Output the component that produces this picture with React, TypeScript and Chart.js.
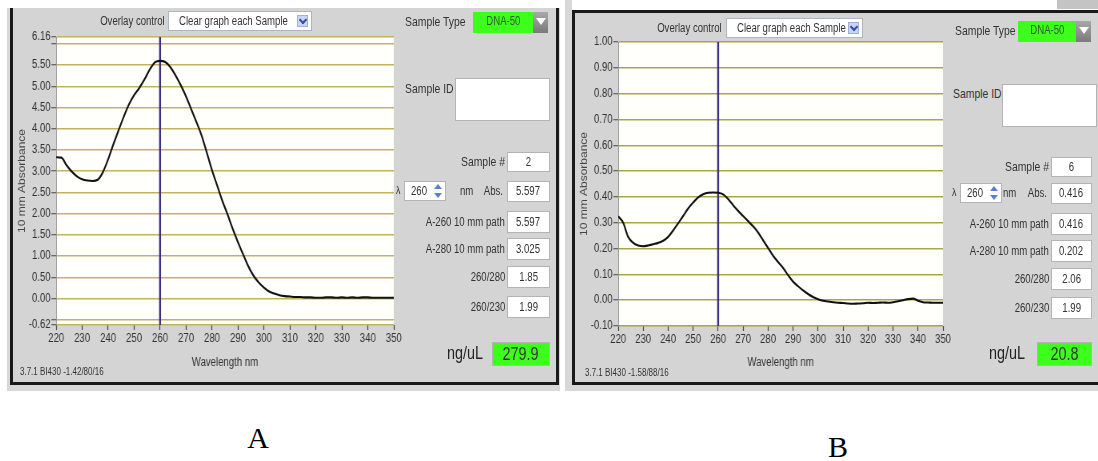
import React, { useEffect, useRef } from "react";
import { Chart, registerables } from "chart.js";

Chart.register(...registerables);

// Wavelength grid (nm) shared by both spectra
const wavelengths = [
  220, 222, 224, 226, 228, 230, 232, 234, 236, 238, 240, 242, 244, 246, 248, 250, 252, 254, 256, 258,
  260, 262, 264, 266, 268, 270, 272, 274, 276, 278, 280, 282, 284, 286, 288, 290, 292, 294, 296, 298,
  300, 302, 304, 306, 308, 310, 312, 314, 316, 318, 320, 322, 324, 326, 328, 330, 332, 334, 336, 338,
  340, 342, 344, 346, 348, 350,
];

// Sample 2 absorbance (10 mm path)
const absorbanceA = [
  3.33, 3.32, 3.14, 2.99, 2.88, 2.81, 2.78, 2.77, 2.8, 2.98, 3.28, 3.63, 3.96, 4.28, 4.57, 4.79, 4.96, 5.16, 5.39, 5.56,
  5.597, 5.57, 5.45, 5.25, 5.02, 4.76, 4.46, 4.16, 3.84, 3.44, 3.025, 2.66, 2.3, 1.98, 1.64, 1.33, 1.04, 0.76, 0.54, 0.38,
  0.26, 0.17, 0.12, 0.08, 0.06, 0.05, 0.04, 0.04, 0.03, 0.03, 0.02, 0.02, 0.03, 0.03, 0.02, 0.03, 0.02, 0.03, 0.02, 0.03,
  0.03, 0.02, 0.02, 0.02, 0.02, 0.02,
];

// Sample 6 absorbance (10 mm path)
const absorbanceB = [
  0.325, 0.3, 0.245, 0.222, 0.212, 0.209, 0.212, 0.217, 0.222, 0.23, 0.245, 0.27, 0.298, 0.326, 0.355, 0.378, 0.398, 0.41, 0.416, 0.417,
  0.416, 0.41, 0.392, 0.368, 0.346, 0.326, 0.306, 0.286, 0.262, 0.232, 0.202, 0.172, 0.148, 0.125, 0.097, 0.072, 0.054, 0.038, 0.024, 0.012,
  0.004, -0.002, -0.005, -0.008, -0.01, -0.011, -0.013, -0.014, -0.013, -0.012, -0.01, -0.011, -0.01, -0.009, -0.01, -0.008, -0.004, 0.0, 0.004, 0.006,
  -0.002, -0.008, -0.009, -0.01, -0.01, -0.01,
];

const xTicks = [220, 230, 240, 250, 260, 270, 280, 290, 300, 310, 320, 330, 340, 350];
const yTicksA = [-0.62, -0.5, 0, 0.5, 1, 1.5, 2, 2.5, 3, 3.5, 4, 4.5, 5, 5.5, 6, 6.16];
const yUnlabeledA = [-0.5, 6];
const yTicksB = [-0.1, 0, 0.1, 0.2, 0.3, 0.4, 0.5, 0.6, 0.7, 0.8, 0.9, 1.0];
const markerNm = 260;

// Readout panel contents
const readoutLabels = ["A-260 10 mm path", "A-280 10 mm path", "260/280", "260/230"];
const readoutsA = ["5.597", "3.025", "1.85", "1.99"];
const readoutsB = ["0.416", "0.202", "2.06", "1.99"];
const sampleNumbers = ["2", "6"];
const absAtMarker = ["5.597", "0.416"];
const concentrations = ["279.9", "20.8"];
const footers = ["3.7.1 BI430 -1.42/80/16", "3.7.1 BI430 -1.58/88/16"];
const captions = ["A", "B"];

const SANS = '"Liberation Sans", Arial, sans-serif';
const SQUEEZE = 0.8; // instrument UI uses a horizontally condensed face
const PANEL = "#d4d4d4";
const GREEN = "#3cff1c";

const plotBackground = {
  id: "plotBackground",
  beforeDraw(chart: any) {
    const { ctx, chartArea } = chart;
    ctx.save();
    ctx.fillStyle = "#fffffb";
    ctx.fillRect(chartArea.left, chartArea.top, chartArea.right - chartArea.left, chartArea.bottom - chartArea.top);
    ctx.restore();
  },
};

type SpectrumProps = {
  left: number; top: number; width: number; height: number;
  values: number[]; yMin: number; yMax: number; yTicks: number[]; unlabeled: number[];
  gridColor: string; yAxisWidth: number; xAxisHeight: number; padTop: number; padRight: number;
};

function Spectrum(p: SpectrumProps) {
  const ref = useRef<HTMLCanvasElement>(null);
  useEffect(() => {
    const points = wavelengths.map((w, i) => ({ x: w, y: p.values[i] }));
    const tickFont = { family: SANS, size: 12 };
    const chart = new Chart(ref.current as HTMLCanvasElement, {
      type: "line",
      data: {
        datasets: [
          {
            data: points,
            borderColor: "#111111",
            borderWidth: 2.1,
            pointRadius: 0,
            cubicInterpolationMode: "monotone",
            order: 1,
          },
          {
            data: [
              { x: markerNm, y: p.yMin },
              { x: markerNm, y: p.yMax },
            ],
            borderColor: "#3d2f86",
            borderWidth: 2.4,
            pointRadius: 0,
            order: 2,
          },
        ],
      },
      options: {
        animation: false,
        responsive: false,
        maintainAspectRatio: false,
        layout: { padding: { top: p.padTop, right: p.padRight, left: 0, bottom: 0 } },
        plugins: { legend: { display: false }, tooltip: { enabled: false } },
        scales: {
          x: {
            type: "linear",
            min: 220,
            max: 350,
            afterBuildTicks: (s: any) => {
              s.ticks = xTicks.map((v) => ({ value: v }));
            },
            afterFit: (s: any) => {
              s.height = p.xAxisHeight;
            },
            grid: { drawOnChartArea: false, tickLength: 5, tickColor: "#444", tickWidth: 1.2 },
            border: { display: false },
            ticks: { font: tickFont, color: "#333", padding: 1, maxRotation: 0, autoSkip: false },
            title: {
              display: true,
              text: "Wavelength nm",
              font: { family: SANS, size: 12 },
              color: "#333",
              padding: { top: 2, bottom: 4 },
            },
          },
          y: {
            type: "linear",
            min: p.yMin,
            max: p.yMax,
            afterBuildTicks: (s: any) => {
              s.ticks = p.yTicks.map((v) => ({ value: v }));
            },
            afterFit: (s: any) => {
              s.width = p.yAxisWidth;
            },
            grid: { color: p.gridColor, lineWidth: 1.5, tickLength: 6, tickColor: "#444", tickWidth: 1 },
            border: { display: true, color: "#9a9a9a", width: 1 },
            ticks: {
              font: tickFont,
              color: "#333",
              padding: 1,
              autoSkip: false,
              callback: (v: any) => (p.unlabeled.includes(Number(v)) ? "" : Number(v).toFixed(2)),
            },
            title: {
              display: true,
              text: "10 mm Absorbance",
              font: { family: SANS, size: 12 },
              color: "#444",
              padding: { top: 4, bottom: 2 },
            },
          },
        },
      },
      plugins: [plotBackground],
    } as any);
    return () => chart.destroy();
  }, []);
  return (
    <canvas
      ref={ref}
      width={p.width}
      height={p.height}
      style={{
        position: "absolute",
        left: p.left,
        top: p.top,
        width: p.width,
        height: p.height,
        transform: `scaleX(${SQUEEZE})`,
        transformOrigin: "0 0",
      }}
    />
  );
}

function Label(props: { x: number; y: number; text: string; size?: number; align?: "left" | "right" | "center"; color?: string }) {
  const size = props.size ?? 12;
  const align = props.align ?? "left";
  const w = 240;
  const left = align === "left" ? props.x : align === "right" ? props.x - w : props.x - w / 2;
  return (
    <div
      style={{
        position: "absolute",
        left,
        top: props.y - size * 0.6,
        width: w,
        height: size * 1.2,
        lineHeight: `${size * 1.2}px`,
        fontSize: size,
        fontFamily: SANS,
        color: props.color ?? "#333",
        textAlign: align,
        whiteSpace: "nowrap",
      }}
    >
      <span style={{ display: "inline-block", transform: `scaleX(${SQUEEZE})`, transformOrigin: align }}>{props.text}</span>
    </div>
  );
}

function ValueBox(props: { x: number; y: number; w: number; h: number; text: string; bg?: string; size?: number }) {
  return (
    <div
      style={{
        position: "absolute",
        left: props.x,
        top: props.y - props.h / 2,
        width: props.w,
        height: props.h,
        boxSizing: "border-box",
        background: props.bg ?? "#ffffff",
        border: "1px solid #b4b4b4",
        textAlign: "center",
        lineHeight: `${props.h - 2}px`,
        fontSize: props.size ?? 12,
        fontFamily: SANS,
        color: "#333",
        whiteSpace: "nowrap",
      }}
    >
      <span style={{ display: "inline-block", transform: `scaleX(${SQUEEZE})`, transformOrigin: "center" }}>{props.text}</span>
    </div>
  );
}

function Rect(props: { x: number; y: number; w: number; h: number; bg: string; extra?: any }) {
  return (
    <div
      style={{ position: "absolute", left: props.x, top: props.y, width: props.w, height: props.h, background: props.bg, ...(props.extra || {}) }}
    />
  );
}

type ControlsProps = {
  idx: number;
  overlayRight: number; overlayY: number; dropX: number; dropW: number;
  typeTextX: number; typeY: number; greenX: number; greenW: number;
  idTextX: number; idY: number; idBoxX: number; idBoxTop: number;
  right: number; boxW: number; rowYs: number[];
  lambdaX: number; spinX: number; nmX: number;
  ngRight: number; ngY: number; ngX: number; ngW: number;
  footerX: number; footerY: number;
  readouts: string[];
};

function Controls(c: ControlsProps) {
  const boxX = c.right - c.boxW;
  const labelRight = boxX - 2;
  return (
    <>
      <Label x={c.overlayRight} y={c.overlayY} text="Overlay control" size={12} align="right" />
      <div
        style={{
          position: "absolute",
          left: c.dropX,
          top: c.overlayY - 10,
          width: c.dropW,
          height: 20,
          boxSizing: "border-box",
          background: "#fff",
          border: "1px solid #a9b6c8",
        }}
      />
      <Label x={c.dropX + 11} y={c.overlayY} text="Clear graph each Sample" size={12} />
      <Rect x={c.dropX + c.dropW - 15} y={c.overlayY - 6} w={11} h={12} bg="#c9d5f2" extra={{ border: "1px solid #a0b0d8", boxSizing: "border-box" }} />
      <div
        style={{
          position: "absolute",
          left: c.dropX + c.dropW - 12,
          top: c.overlayY - 4,
          width: 4,
          height: 4,
          borderRight: "2px solid #3050a8",
          borderBottom: "2px solid #3050a8",
          transform: "rotate(45deg)",
        }}
      />

      <Label x={c.typeTextX} y={c.typeY} text="Sample Type" size={13} />
      <Rect x={c.greenX} y={c.typeY - 10} w={c.greenW} h={21} bg={GREEN} />
      <Label x={c.greenX + c.greenW / 2} y={c.typeY - 1} text="DNA-50" size={12} align="center" color="#2f5a2f" />
      <Rect x={c.greenX + c.greenW} y={c.typeY - 10} w={15} h={21} bg="linear-gradient(#a8a8a8, #7a7a7a)" />
      <div
        style={{
          position: "absolute",
          left: c.greenX + c.greenW + 3,
          top: c.typeY - 4,
          width: 0,
          height: 0,
          borderLeft: "5px solid transparent",
          borderRight: "5px solid transparent",
          borderTop: "7px solid #ffffff",
        }}
      />

      <Label x={c.idTextX} y={c.idY} text="Sample ID" size={13} />
      <Rect x={c.idBoxX} y={c.idBoxTop} w={95} h={43} bg="#fff" extra={{ border: "1px solid #b4b4b4", boxSizing: "border-box" }} />

      <Label x={labelRight} y={c.rowYs[0]} text="Sample #" size={13} align="right" />
      <ValueBox x={boxX} y={c.rowYs[0]} w={c.boxW} h={20} text={sampleNumbers[c.idx]} />

      <Label x={c.lambdaX} y={c.rowYs[1]} text="λ" size={11} />
      <Rect x={c.spinX} y={c.rowYs[1] - 10} w={42} h={20} bg="#fff" extra={{ border: "1px solid #b4b4b4", boxSizing: "border-box" }} />
      <Label x={c.spinX + 7} y={c.rowYs[1]} text={String(markerNm)} size={12} />
      <div
        style={{
          position: "absolute", left: c.spinX + 30, top: c.rowYs[1] - 7, width: 0, height: 0,
          borderLeft: "4px solid transparent", borderRight: "4px solid transparent", borderBottom: "5px solid #5a7fd0",
        }}
      />
      <div
        style={{
          position: "absolute", left: c.spinX + 30, top: c.rowYs[1] + 2, width: 0, height: 0,
          borderLeft: "4px solid transparent", borderRight: "4px solid transparent", borderTop: "5px solid #5a7fd0",
        }}
      />
      <Label x={c.nmX} y={c.rowYs[1]} text="nm" size={12} />
      <Label x={labelRight - 2} y={c.rowYs[1]} text="Abs." size={12} align="right" />
      <ValueBox x={boxX} y={c.rowYs[1]} w={c.boxW} h={21} text={absAtMarker[c.idx]} />

      {readoutLabels.map((lab, i) => (
        <React.Fragment key={lab}>
          <Label x={labelRight} y={c.rowYs[i + 2]} text={lab} size={12} align="right" />
          <ValueBox x={boxX} y={c.rowYs[i + 2]} w={c.boxW} h={22} text={c.readouts[i]} />
        </React.Fragment>
      ))}

      <Label x={c.ngRight} y={c.ngY} text="ng/uL" size={18} align="right" color="#222" />
      <ValueBox x={c.ngX} y={c.ngY} w={c.ngW} h={24} text={concentrations[c.idx]} bg={GREEN} size={18} />

      <Label x={c.footerX} y={c.footerY} text={footers[c.idx]} size={10} />
    </>
  );
}

export default function App() {
  return (
    <div style={{ position: "absolute", left: 0, top: 0, width: 1098, height: 461, background: "#fff", overflow: "hidden" }}>
      {/* panel A frame */}
      <Rect x={7} y={8} w={553} h={383} bg="#d8d8d8" />
      <Rect x={13} y={8} w={543} h={374} bg={PANEL} />
      <Rect x={10} y={8} w={3} h={377} bg="#1a1a1a" />
      <Rect x={556} y={8} w={3} h={377} bg="#1a1a1a" />
      <Rect x={10} y={382} w={549} h={3} bg="#1a1a1a" />

      {/* panel B frame */}
      <Rect x={565} y={0} w={533} h={391} bg="#d8d8d8" />
      <Rect x={572} y={0} w={526} h={10} bg="#ffffff" />
      <Rect x={1057} y={0} w={41} h={9} bg="#c4c4c4" />
      <Rect x={575} y={13} w={523} h={369} bg={PANEL} />
      <Rect x={572} y={10} w={526} h={3} bg="#1a1a1a" />
      <Rect x={572} y={10} w={3} h={375} bg="#1a1a1a" />
      <Rect x={572} y={382} w={526} h={3} bg="#1a1a1a" />

      <Spectrum
        left={13} top={10} width={488} height={364}
        values={absorbanceA} yMin={-0.62} yMax={6.16} yTicks={yTicksA} unlabeled={yUnlabeledA}
        gridColor="#c4b261" yAxisWidth={54} xAxisHeight={49} padTop={27} padRight={12}
      />
      <Spectrum
        left={575} top={12} width={472} height={362}
        values={absorbanceB} yMin={-0.1} yMax={1.0} yTicks={yTicksB} unlabeled={[]}
        gridColor="#aca545" yAxisWidth={54} xAxisHeight={48} padTop={30} padRight={12}
      />

      <Controls
        idx={0}
        overlayRight={165} overlayY={21} dropX={168} dropW={144}
        typeTextX={405} typeY={22} greenX={473} greenW={60}
        idTextX={405} idY={89} idBoxX={455} idBoxTop={78}
        right={550} boxW={43} rowYs={[162, 191, 222, 249, 277, 307]}
        lambdaX={396} spinX={404} nmX={460}
        ngRight={483} ngY={354} ngX={492} ngW={58}
        footerX={20} footerY={372}
        readouts={readoutsA}
      />
      <Controls
        idx={1}
        overlayRight={722} overlayY={28} dropX={726} dropW={137}
        typeTextX={955} typeY={31} greenX={1018} greenW={58}
        idTextX={953} idY={94} idBoxX={1002} idBoxTop={84}
        right={1092} boxW={41} rowYs={[167, 193, 224, 251, 279, 308]}
        lambdaX={952} spinX={960} nmX={1003}
        ngRight={1025} ngY={354} ngX={1037} ngW={55}
        footerX={585} footerY={373}
        readouts={readoutsB}
      />

      <div style={{ position: "absolute", left: 208, top: 423, width: 100, textAlign: "center", fontFamily: '"Liberation Serif", "Times New Roman", serif', fontSize: 30, lineHeight: "30px", color: "#000" }}>
        {captions[0]}
      </div>
      <div style={{ position: "absolute", left: 788, top: 432, width: 100, textAlign: "center", fontFamily: '"Liberation Serif", "Times New Roman", serif', fontSize: 30, lineHeight: "30px", color: "#000" }}>
        {captions[1]}
      </div>
    </div>
  );
}
